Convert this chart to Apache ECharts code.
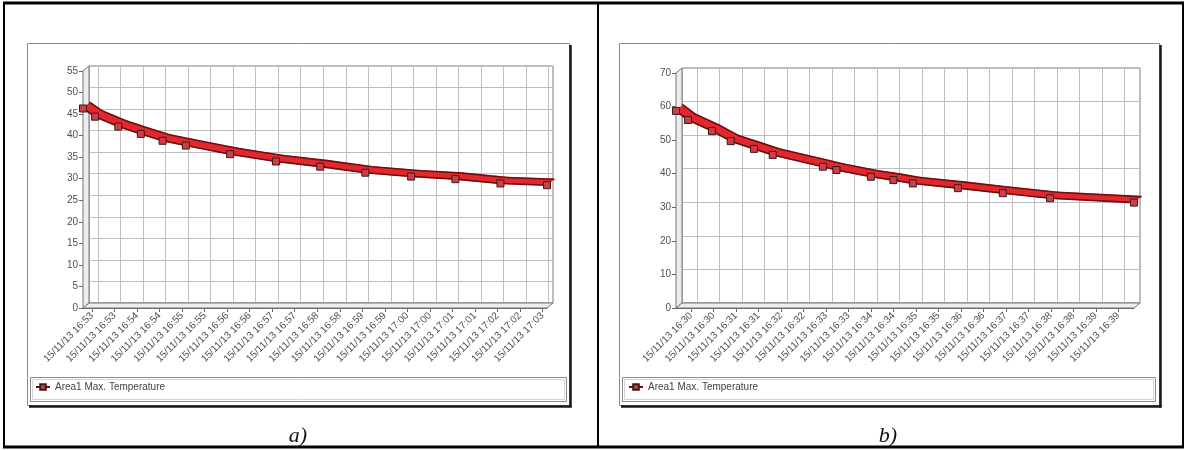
<!DOCTYPE html>
<html>
<head>
<meta charset="utf-8">
<script src="https://cdn.jsdelivr.net/npm/echarts@6/dist/echarts.min.js"></script>
<style>
  html, body { margin: 0; padding: 0; background: #fff; }
  #chart { width: 1186px; height: 450px; }
</style>
</head>
<body>
<div id="chart"></div>
<script>
// ---- data -------------------------------------------------------------
const SERIES_NAME = 'Area1 Max. Temperature';
const DATE_LABEL = '15/11/13';

// recording a)
const timesA = ['16:52:48', '16:53:04', '16:53:35', '16:54:05', '16:54:34', '16:55:05', '16:56:04',
                '16:57:05', '16:58:04', '16:59:04', '17:00:05', '17:01:04', '17:02:04', '17:03:06'];
const tempsA = [46.3, 44.4, 42.1, 40.4, 38.8, 37.7, 35.7, 34.0, 32.8, 31.4, 30.5, 29.9, 28.9, 28.5];
const ticksA = ['16:53:00', '16:53:30', '16:54:00', '16:54:30', '16:55:00', '16:55:30', '16:56:00',
                '16:56:30', '16:57:00', '16:57:30', '16:58:00', '16:58:30', '16:59:00', '16:59:30',
                '17:00:00', '17:00:30', '17:01:00', '17:01:30', '17:02:00', '17:02:30', '17:03:00'];
const yAxisA = { max: 55, step: 5 };

// recording b)
const timesB = ['16:29:40', '16:29:56', '16:30:28', '16:30:53', '16:31:24', '16:31:49', '16:32:56',
                '16:33:14', '16:34:00', '16:34:30', '16:34:56', '16:35:56', '16:36:56', '16:37:59',
                '16:39:51'];
const tempsB = [58.7, 56.0, 52.7, 49.7, 47.4, 45.6, 42.1, 41.1, 39.1, 38.1, 37.1, 35.7, 34.2, 32.7, 31.4];
const ticksB = ['16:30:00', '16:30:30', '16:31:00', '16:31:30', '16:32:00', '16:32:30', '16:33:00',
                '16:33:30', '16:34:00', '16:34:30', '16:35:00', '16:35:30', '16:36:00', '16:36:30',
                '16:37:00', '16:37:30', '16:38:00', '16:38:30', '16:39:00', '16:39:30'];
const yAxisB = { max: 70, step: 10 };

// ---- look ---------------------------------------------------------------
const DEPTH = [6, -5];               // 3D offset of the back wall
const RIBBON_DEPTH = [7, -6];        // thickness of the 3D line ribbon
const RIBBON = '#e2272e';
const EDGE = '#6a1010';
const FONT = "'Liberation Sans', Arial, sans-serif";

function toSec(hms) {
  const p = hms.split(':').map(Number);
  return p[0] * 3600 + p[1] * 60 + p[2];
}
function pad(n) { return (n < 10 ? '0' : '') + n; }
function tickLabel(sec) {
  const h = Math.floor(sec / 3600), m = Math.floor((sec % 3600) / 60);
  return DATE_LABEL + ' ' + pad(h) + ':' + pad(m);
}

// plot geometry of each panel (front plane) and its surrounding boxes
const panels = [
  { times: timesA, temps: tempsA, ticks: ticksA, y: yAxisA,
    front: { left: 83, top: 71, width: 464, height: 237 },
    box: [27, 43, 542, 362], legendBox: [30, 377, 536, 24], legendLeft: 35, caption: 'a)', capX: 298 },
  { times: timesB, temps: tempsB, ticks: ticksB, y: yAxisB,
    front: { left: 676, top: 73, width: 458, height: 235 },
    box: [619, 43, 540, 362], legendBox: [622, 377, 533, 24], legendLeft: 628, caption: 'b)', capX: 888 }
];

const grids = [], xAxes = [], yAxes = [], series = [], legends = [], graphics = [];

// one ribbon segment: face between the front edge and its shifted copy, plus the top edge
function ribbonItem(params, api) {
  const p0 = api.coord([api.value(0), api.value(1)]);
  const p1 = api.coord([api.value(2), api.value(3)]);
  const q0 = [p0[0] + RIBBON_DEPTH[0], p0[1] + RIBBON_DEPTH[1]];
  const q1 = [p1[0] + RIBBON_DEPTH[0], p1[1] + RIBBON_DEPTH[1]];
  return {
    type: 'group',
    children: [
      { type: 'polygon', shape: { points: [p0, p1, q1, q0] },
        style: { fill: RIBBON, stroke: RIBBON, lineWidth: 0.8 } },
      { type: 'line', shape: { x1: q0[0], y1: q0[1], x2: q1[0], y2: q1[1] },
        style: { stroke: EDGE, lineWidth: 1.6, lineCap: 'round' } }
    ]
  };
}

panels.forEach(function (p, k) {
  const secs = p.times.map(toSec);
  const tickSecs = p.ticks.map(toSec);
  const xMin = secs[0], xMax = secs[secs.length - 1];
  const pts = secs.map(function (s, i) { return [s, p.temps[i]]; });
  const segs = [];
  for (let i = 0; i + 1 < pts.length; i++) segs.push([pts[i][0], pts[i][1], pts[i + 1][0], pts[i + 1][1]]);

  const f = p.front;
  const back = { left: f.left + DEPTH[0], top: f.top + DEPTH[1], width: f.width, height: f.height };
  const gBack = grids.length, gFront = gBack + 1;

  grids.push({ left: back.left, top: back.top, width: back.width, height: back.height,
               show: true, backgroundColor: '#fff', borderColor: '#7a7a7a', borderWidth: 1 });
  grids.push({ left: f.left, top: f.top, width: f.width, height: f.height });

  // back wall: grid lines only
  xAxes.push({ type: 'value', gridIndex: gBack, min: xMin, max: xMax,
               axisLine: { show: false }, axisLabel: { show: false },
               axisTick: { show: false, customValues: tickSecs },
               splitLine: { show: true, lineStyle: { color: '#bfbfbf', width: 1 } } });
  yAxes.push({ type: 'value', gridIndex: gBack, min: 0, max: p.y.max, interval: p.y.step,
               axisLine: { show: false }, axisLabel: { show: false }, axisTick: { show: false },
               splitLine: { show: true, lineStyle: { color: '#bfbfbf', width: 1 } } });

  // front plane: axes, ticks and labels
  xAxes.push({ type: 'value', gridIndex: gFront, min: xMin, max: xMax,
               axisLine: { show: true, lineStyle: { color: '#666', width: 1 } },
               axisTick: { show: true, length: 4, customValues: tickSecs, lineStyle: { color: '#666' } },
               axisLabel: { show: true, customValues: tickSecs, rotate: 45, margin: 6,
                            formatter: tickLabel, fontSize: 10, color: '#505050', fontFamily: FONT },
               splitLine: { show: false } });
  yAxes.push({ type: 'value', gridIndex: gFront, min: 0, max: p.y.max, interval: p.y.step,
               axisLine: { show: true, lineStyle: { color: '#666', width: 1 } },
               axisTick: { show: true, length: 4, lineStyle: { color: '#666' } },
               axisLabel: { fontSize: 10, color: '#505050', margin: 5, fontFamily: FONT },
               splitLine: { show: false } });

  series.push({ type: 'custom', name: 'ribbon' + k, xAxisIndex: gFront, yAxisIndex: gFront,
                renderItem: ribbonItem, encode: { x: [0, 2], y: [1, 3] }, data: segs,
                silent: true, z: 3 });
  series.push({ type: 'line', name: SERIES_NAME, xAxisIndex: gFront, yAxisIndex: gFront, data: pts,
                symbol: 'rect', symbolSize: 7, showSymbol: true,
                lineStyle: { color: EDGE, width: 1.6 },
                itemStyle: { color: '#cf3d48', borderColor: '#3a1a1a', borderWidth: 1 }, z: 5 });

  legends.push({ data: [SERIES_NAME], left: p.legendLeft, top: 382, padding: 0,
                 itemWidth: 14, itemHeight: 7, selectedMode: false,
                 textStyle: { fontSize: 10, color: '#444', fontFamily: FONT } });

  // left wall and floor of the 3D plot
  const L = f.left, T = f.top, R = f.left + f.width, B = f.top + f.height;
  graphics.push({ type: 'polygon', z: 1, silent: true,
                  shape: { points: [[L, T], [L + DEPTH[0], T + DEPTH[1]], [L + DEPTH[0], B + DEPTH[1]], [L, B]] },
                  style: { fill: '#ededed', stroke: '#777', lineWidth: 1 } });
  graphics.push({ type: 'polygon', z: 1, silent: true,
                  shape: { points: [[L, B], [L + DEPTH[0], B + DEPTH[1]], [R + DEPTH[0], B + DEPTH[1]], [R, B]] },
                  style: { fill: '#ededed', stroke: '#777', lineWidth: 1 } });

  // chart box with its shadow
  const b = p.box;
  graphics.push({ type: 'rect', z: 0, silent: true, shape: { x: b[0] + 0.5, y: b[1] + 0.5, width: b[2], height: b[3] },
                  style: { fill: 'none', stroke: '#8a8a8a', lineWidth: 1 } });
  graphics.push({ type: 'line', z: 0, silent: true,
                  shape: { x1: b[0] + b[2] + 1.5, y1: b[1] + 2, x2: b[0] + b[2] + 1.5, y2: b[1] + b[3] + 2.5 },
                  style: { stroke: '#1a1a1a', lineWidth: 2.5 } });
  graphics.push({ type: 'line', z: 0, silent: true,
                  shape: { x1: b[0] + 2, y1: b[1] + b[3] + 1.5, x2: b[0] + b[2] + 2.5, y2: b[1] + b[3] + 1.5 },
                  style: { stroke: '#1a1a1a', lineWidth: 2.5 } });

  // legend frame
  const lb = p.legendBox;
  graphics.push({ type: 'rect', z: 0, silent: true, shape: { x: lb[0] + 0.5, y: lb[1] + 0.5, width: lb[2], height: lb[3] },
                  style: { fill: 'none', stroke: '#8c8c8c', lineWidth: 1 } });
  graphics.push({ type: 'rect', z: 0, silent: true, shape: { x: lb[0] + 2.5, y: lb[1] + 2.5, width: lb[2] - 4, height: lb[3] - 4 },
                  style: { fill: 'none', stroke: '#d4d4d4', lineWidth: 1 } });

  // caption under the panel
  graphics.push({ type: 'text', z: 0, silent: true, x: p.capX, y: 436,
                  style: { text: p.caption, fill: '#111', align: 'center', verticalAlign: 'middle',
                           font: "italic 22px 'Liberation Serif', 'DejaVu Serif', serif" } });
});

// figure frame and divider
[[3, 3, 1184, 3, 3], [3, 447, 1184, 447, 3], [4, 2, 4, 448, 2], [1183, 2, 1183, 448, 2], [598, 2, 598, 448, 2]]
  .forEach(function (l) {
    graphics.push({ type: 'line', z: 0, silent: true, shape: { x1: l[0], y1: l[1], x2: l[2], y2: l[3] },
                    style: { stroke: '#000', lineWidth: l[4] } });
  });

const chart = echarts.init(document.getElementById('chart'), null, { renderer: 'canvas' });
chart.setOption({
  animation: false,
  backgroundColor: '#fff',
  grid: grids,
  xAxis: xAxes,
  yAxis: yAxes,
  legend: legends,
  series: series,
  graphic: { elements: graphics }
});
</script>
</body>
</html>
